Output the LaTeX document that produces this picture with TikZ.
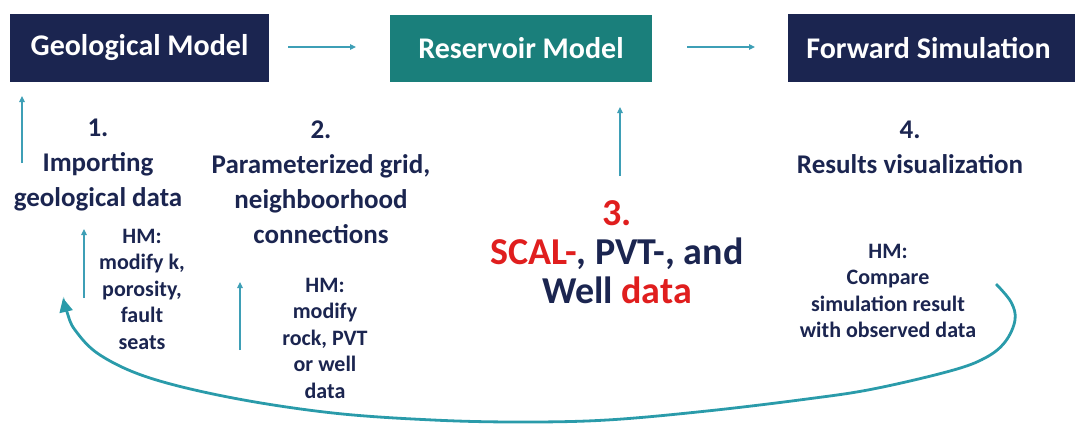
\documentclass[tikz,border=0pt]{standalone}
\usepackage{fontspec}
\setmainfont{Carlito}
\usetikzlibrary{arrows.meta}
\definecolor{navy}{HTML}{1B2550}
\definecolor{boxteal}{HTML}{1A7F7B}
\definecolor{arrteal}{HTML}{3E9FB6}
\definecolor{curveteal}{HTML}{2A9BAA}
\definecolor{hred}{HTML}{E01E1E}
\tikzset{
  navybox/.style={fill=navy, text=white, inner sep=0pt, font=\bfseries\fontsize{30}{36}\selectfont},
  tealbox/.style={fill=boxteal, text=white, inner sep=0pt, font=\bfseries\fontsize{30}{36}\selectfont},
  flowarrow/.style={draw=arrteal, line width=1.2pt, -{Triangle[length=6pt,width=5.5pt]}},
  bigtxt/.style={text=navy, align=center, inner sep=0pt, font=\bfseries\fontsize{27}{35}\selectfont},
  centertxt/.style={text=navy, align=center, inner sep=0pt, font=\bfseries\fontsize{38}{39}\selectfont},
  smalltxt/.style={text=navy, align=center, inner sep=0pt, font=\bfseries\fontsize{22}{26.5}\selectfont},
  loopline/.style={draw=curveteal, line width=2.8pt, -{Triangle[length=14pt,width=13pt]}}
}
\begin{document}
\begin{tikzpicture}[x=1pt,y=-1pt]
\useasboundingbox (0,0) rectangle (1075,424);
% boxes
\node[navybox, minimum width=259pt, minimum height=68pt] (geo) at (139.5,48) {Geological Model};
\node[tealbox, minimum width=262pt, minimum height=67pt] (res) at (521,48.5) {Reservoir Model};
\node[navybox, minimum width=287pt, minimum height=68pt] (fwd) at (931.5,48) {\hspace*{-6pt}Forward Simulation};
% horizontal arrows
\coordinate (h1s) at (288,47);
\coordinate (h1e) at (356,47);
\coordinate (h2s) at (687,47);
\coordinate (h2e) at (755,47);
\draw[flowarrow] (h1s) -- (h1e);
\draw[flowarrow] (h2s) -- (h2e);
% text blocks
\node[bigtxt] (t1) at (98,165) {1.\\Importing\\geological data};
\node[bigtxt] (t2) at (321,182) {2.\\Parameterized grid,\\neighboorhood\\connections};
\node[centertxt] (t3) at (617,252) {\textcolor{hred}{3.}\\\textcolor{hred}{SCAL-}, PVT-, and\\Well \textcolor{hred}{data}};
\node[bigtxt] (t4) at (910,147.5) {4.\\Results visualization};
\node[smalltxt] (hm1) at (142,289) {HM:\\modify k,\\porosity,\\fault\\seats};
\node[smalltxt] (hm2) at (325,338) {HM:\\modify\\rock, PVT\\or well\\data};
\node[smalltxt] (hm4) at (888,291) {HM:\\Compare\\simulation result\\with observed data};
% vertical arrows
\coordinate (v1s) at (22,163); \coordinate (v1e) at (22,96);
\coordinate (v2s) at (84,298); \coordinate (v2e) at (84,229);
\coordinate (v3s) at (240,350); \coordinate (v3e) at (240,282);
\coordinate (v4s) at (620,176); \coordinate (v4e) at (620,107);
\draw[flowarrow] (v1s) -- (v1e);
\draw[flowarrow] (v2s) -- (v2e);
\draw[flowarrow] (v3s) -- (v3e);
\draw[flowarrow] (v4s) -- (v4e);
% feedback loop
\coordinate (loopstart) at (996,284);
\coordinate (loopend) at (63,298);
\draw[loopline] plot[smooth, tension=0.6] coordinates {(loopstart) (1011,302) (1015,320) (1005,342) (985,358) (950,371) (873,389) (807,399) (707,411) (607,420) (520,422) (433,420) (333,413) (233,398) (150,378) (100,355) (75,330) (67,312) (loopend)};
\end{tikzpicture}
\end{document}
